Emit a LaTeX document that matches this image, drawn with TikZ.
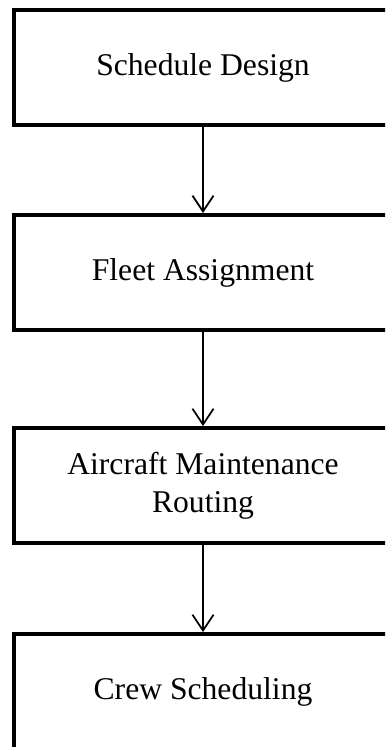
\documentclass[tikz,border=0pt]{standalone}
\usepackage{fontspec}
\setmainfont{Liberation Serif}
\usetikzlibrary{positioning, arrows.meta}

\begin{document}
\begin{tikzpicture}[
  stage/.style = {draw, line width = 2.3pt, minimum width = 7.56cm, minimum height = 2.3cm, align = center, font = \fontsize{18}{21.5}\selectfont},
  flow/.style = {line width = 1pt, -{Straight Barb[length = 9pt, width = 12pt]}}
]
\useasboundingbox (0, 0) rectangle (7.7, -14.94);
\clip (0, 0) rectangle (7.7, -14.94);

\node[stage] (design) at (4.06, -1.35) {Schedule Design};
\node[stage, below = 1.72cm of design] (fleet) {Fleet Assignment};
\node[stage, below = 1.88cm of fleet] (routing) {Aircraft Maintenance\\Routing};
\node[stage, below = 1.74cm of routing] (crew) {Crew Scheduling};

\draw[flow] (design) -- (fleet);
\draw[flow] (fleet) -- (routing);
\draw[flow] (routing) -- (crew);
\end{tikzpicture}
\end{document}
